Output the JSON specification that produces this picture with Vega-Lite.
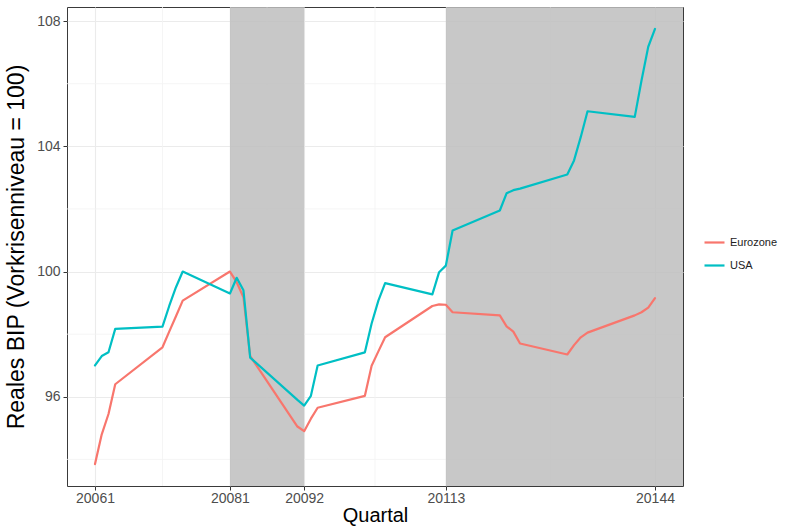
{
  "$schema": "https://vega.github.io/schema/vega-lite/v6.json",
  "width": 616,
  "height": 479,
  "autosize": "none",
  "padding": {"left": 67, "top": 7, "right": 105, "bottom": 42},
  "background": "white",
  "config": {
    "view": {"stroke": "#3a3a3a", "strokeWidth": 1},
    "font": "Liberation Sans",
    "axis": {
      "domain": false,
      "gridColor": "#EBEBEB",
      "gridWidth": 1.1,
      "tickColor": "#333333",
      "tickSize": 4,
      "tickWidth": 1,
      "labelColor": "#4D4D4D",
      "labelFont": "Liberation Sans",
      "titleFont": "Liberation Sans",
      "titleFontWeight": "normal",
      "titleColor": "#000000"
    }
  },
  "datasets": {
    "gdp": [
      {"quartal": 20061, "region": "Eurozone", "bip": 93.85},
      {"quartal": 20062, "region": "Eurozone", "bip": 94.8},
      {"quartal": 20063, "region": "Eurozone", "bip": 95.45},
      {"quartal": 20064, "region": "Eurozone", "bip": 96.4},
      {"quartal": 20071, "region": "Eurozone", "bip": 97.58},
      {"quartal": 20072, "region": "Eurozone", "bip": 98.08},
      {"quartal": 20073, "region": "Eurozone", "bip": 98.57},
      {"quartal": 20074, "region": "Eurozone", "bip": 99.07},
      {"quartal": 20081, "region": "Eurozone", "bip": 100.0},
      {"quartal": 20082, "region": "Eurozone", "bip": 99.66},
      {"quartal": 20083, "region": "Eurozone", "bip": 99.18},
      {"quartal": 20084, "region": "Eurozone", "bip": 97.3},
      {"quartal": 20091, "region": "Eurozone", "bip": 95.05},
      {"quartal": 20092, "region": "Eurozone", "bip": 94.9},
      {"quartal": 20093, "region": "Eurozone", "bip": 95.3},
      {"quartal": 20094, "region": "Eurozone", "bip": 95.65},
      {"quartal": 20101, "region": "Eurozone", "bip": 96.03},
      {"quartal": 20102, "region": "Eurozone", "bip": 96.99},
      {"quartal": 20103, "region": "Eurozone", "bip": 97.45},
      {"quartal": 20104, "region": "Eurozone", "bip": 97.9},
      {"quartal": 20111, "region": "Eurozone", "bip": 98.9},
      {"quartal": 20112, "region": "Eurozone", "bip": 98.95},
      {"quartal": 20113, "region": "Eurozone", "bip": 98.94},
      {"quartal": 20114, "region": "Eurozone", "bip": 98.7},
      {"quartal": 20121, "region": "Eurozone", "bip": 98.6},
      {"quartal": 20122, "region": "Eurozone", "bip": 98.25},
      {"quartal": 20123, "region": "Eurozone", "bip": 98.08},
      {"quartal": 20124, "region": "Eurozone", "bip": 97.7},
      {"quartal": 20131, "region": "Eurozone", "bip": 97.35},
      {"quartal": 20132, "region": "Eurozone", "bip": 97.65},
      {"quartal": 20133, "region": "Eurozone", "bip": 97.9},
      {"quartal": 20134, "region": "Eurozone", "bip": 98.05},
      {"quartal": 20141, "region": "Eurozone", "bip": 98.6},
      {"quartal": 20142, "region": "Eurozone", "bip": 98.7},
      {"quartal": 20143, "region": "Eurozone", "bip": 98.85},
      {"quartal": 20144, "region": "Eurozone", "bip": 99.15},
      {"quartal": 20061, "region": "USA", "bip": 97.0},
      {"quartal": 20062, "region": "USA", "bip": 97.3},
      {"quartal": 20063, "region": "USA", "bip": 97.42},
      {"quartal": 20064, "region": "USA", "bip": 98.17},
      {"quartal": 20071, "region": "USA", "bip": 98.24},
      {"quartal": 20072, "region": "USA", "bip": 98.9},
      {"quartal": 20073, "region": "USA", "bip": 99.5},
      {"quartal": 20074, "region": "USA", "bip": 100.0},
      {"quartal": 20081, "region": "USA", "bip": 99.3},
      {"quartal": 20082, "region": "USA", "bip": 99.8},
      {"quartal": 20083, "region": "USA", "bip": 99.4},
      {"quartal": 20084, "region": "USA", "bip": 97.25},
      {"quartal": 20091, "region": "USA", "bip": 95.9},
      {"quartal": 20092, "region": "USA", "bip": 95.72},
      {"quartal": 20093, "region": "USA", "bip": 96.03},
      {"quartal": 20094, "region": "USA", "bip": 97.0},
      {"quartal": 20101, "region": "USA", "bip": 97.42},
      {"quartal": 20102, "region": "USA", "bip": 98.34},
      {"quartal": 20103, "region": "USA", "bip": 99.07},
      {"quartal": 20104, "region": "USA", "bip": 99.63},
      {"quartal": 20111, "region": "USA", "bip": 99.27},
      {"quartal": 20112, "region": "USA", "bip": 99.98},
      {"quartal": 20113, "region": "USA", "bip": 100.19},
      {"quartal": 20114, "region": "USA", "bip": 101.31},
      {"quartal": 20121, "region": "USA", "bip": 101.95},
      {"quartal": 20122, "region": "USA", "bip": 102.5},
      {"quartal": 20123, "region": "USA", "bip": 102.6},
      {"quartal": 20124, "region": "USA", "bip": 102.65},
      {"quartal": 20131, "region": "USA", "bip": 103.1},
      {"quartal": 20132, "region": "USA", "bip": 103.55},
      {"quartal": 20133, "region": "USA", "bip": 104.3},
      {"quartal": 20134, "region": "USA", "bip": 105.12},
      {"quartal": 20141, "region": "USA", "bip": 104.94},
      {"quartal": 20142, "region": "USA", "bip": 106.1},
      {"quartal": 20143, "region": "USA", "bip": 107.18},
      {"quartal": 20144, "region": "USA", "bip": 107.75}
    ],
    "phases": [
      {"start": 20081, "end": 20092},
      {"start": 20113, "end": 20148.15}
    ],
    "minorX": [
      {"q": 20071}, {"q": 20086.5}, {"q": 20102.5}, {"q": 20128.5}
    ],
    "minorY": [
      {"v": 94}, {"v": 98}, {"v": 102}, {"v": 106}
    ]
  },
  "layer": [
    {
      "data": {"name": "minorX"},
      "mark": {"type": "rule", "color": "#F2F2F2", "strokeWidth": 0.8},
      "encoding": {
        "x": {"field": "q", "type": "quantitative", "scale": {"domain": [20056.85, 20148.15], "nice": false, "zero": false}}
      }
    },
    {
      "data": {"name": "minorY"},
      "mark": {"type": "rule", "color": "#F2F2F2", "strokeWidth": 0.8},
      "encoding": {
        "y": {"field": "v", "type": "quantitative", "scale": {"domain": [93.15, 108.45], "nice": false, "zero": false}}
      }
    },
    {
      "data": {"name": "phases"},
      "mark": {"type": "rect", "color": "#BEBEBE", "opacity": 0.85},
      "encoding": {
        "x": {"field": "start", "type": "quantitative"},
        "x2": {"field": "end"}
      }
    },
    {
      "data": {"name": "gdp"},
      "mark": {"type": "line", "strokeWidth": 2.2, "strokeJoin": "round", "strokeCap": "round"},
      "encoding": {
        "x": {
          "field": "quartal",
          "type": "quantitative",
          "title": "Quartal",
          "scale": {"domain": [20056.85, 20148.15], "nice": false, "zero": false},
          "axis": {
            "values": [20061, 20081, 20092, 20113, 20144],
            "format": "d",
            "labelFontSize": 14,
            "labelPadding": 1,
            "titleFontSize": 20,
            "titlePadding": 0
          }
        },
        "y": {
          "field": "bip",
          "type": "quantitative",
          "title": "Reales BIP (Vorkrisenniveau = 100)",
          "scale": {"domain": [93.15, 108.45], "nice": false, "zero": false},
          "axis": {
            "values": [96, 100, 104, 108],
            "labelFontSize": 14,
            "labelPadding": 3,
            "titleFontSize": 23,
            "titlePadding": 8
          }
        },
        "color": {
          "field": "region",
          "type": "nominal",
          "scale": {"domain": ["Eurozone", "USA"], "range": ["#F8766D", "#00BFC4"]},
          "legend": {
            "title": null,
            "orient": "none",
            "legendX": 636,
            "legendY": 224,
            "symbolType": "stroke",
            "symbolSize": 400,
            "symbolStrokeWidth": 2.2,
            "labelFontSize": 11,
            "labelColor": "#222222",
            "rowPadding": 6,
            "padding": 0
          }
        }
      }
    }
  ]
}
